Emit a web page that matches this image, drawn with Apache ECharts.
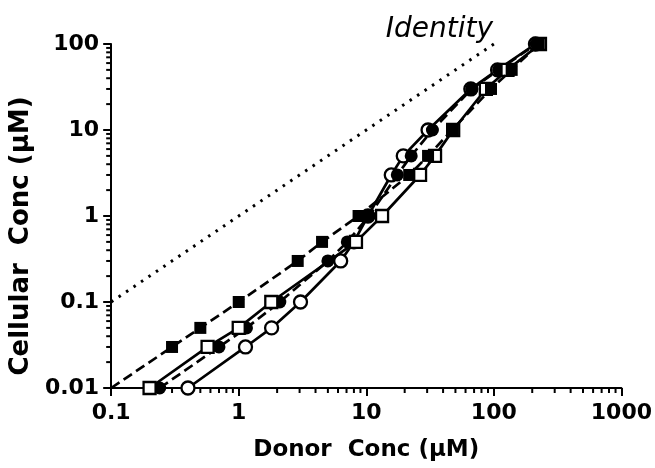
<!DOCTYPE html>
<html><head><meta charset="utf-8">
<script src="https://cdn.jsdelivr.net/npm/echarts@6/dist/echarts.min.js"></script>
<style>html,body{margin:0;padding:0;background:#fff}#c{width:655px;height:468px}</style>
</head><body><div id="c"></div>
<script>
// Cellular concentration levels (y) and donor concentrations (x) per series
const levelsA = [0.01, 0.03, 0.05, 0.1, 0.3, 0.5, 1, 3, 5, 10, 30, 50, 100];
const donorA  = [0.1, 0.3, 0.5, 1, 2.9, 4.5, 8.7, 21.7, 30.5, 47, 95, 138, 225];   // filled squares, dashed
const levelsB = [0.01, 0.03, 0.05, 0.1, 0.3, 0.5, 1, 3, 5, 10, 30, 50, 100];
const donorB  = [0.24, 0.7, 1.15, 2.1, 5, 7.1, 10.5, 17.5, 22.5, 33, 67, 109, 215]; // filled circles, dashed
const levelsC = [0.01, 0.03, 0.05, 0.1, 0.5, 1, 3, 5, 10, 30, 50, 100];
const donorC  = [0.2, 0.57, 1, 1.8, 8.3, 13.3, 26.4, 34.6, 48, 86.6, 128, 230];     // open squares, solid
const levelsD = [0.01, 0.03, 0.05, 0.1, 0.3, 0.5, 1, 3, 5, 10, 30, 50, 100];
const donorD  = [0.4, 1.13, 1.81, 3.05, 6.3, 8, 10.3, 15.7, 19.5, 30.5, 66, 107, 212]; // open circles, solid
const identityX = [0.1, 100];
const identityY = [0.1, 100];
const xTickLabels = [0.1, 1, 10, 100, 1000];
const yTickLabels = [0.01, 0.1, 1, 10, 100];
const minorMultipliers = [2, 3, 4, 5, 6, 7, 8, 9];

const X_MIN = xTickLabels[0], X_MAX = xTickLabels[xTickLabels.length - 1];
const Y_MIN = yTickLabels[0], Y_MAX = yTickLabels[yTickLabels.length - 1];
function minorValues(lo, hi) {
  const out = [];
  for (let d = lo; d < hi; d *= 10) minorMultipliers.forEach(m => out.push(+(d * m).toPrecision(6)));
  return out;
}
const xMinor = minorValues(X_MIN, X_MAX);
const yMinor = minorValues(Y_MIN, Y_MAX);
const zip = (xs, ys) => xs.map((x, i) => [x, ys[i]]);

const chart = echarts.init(document.getElementById('c'), null, {renderer: 'canvas'});
const BOLD = 'DejaVu Sans, Liberation Sans, sans-serif';
const fmt = v => String(+(+v).toPrecision(6));

const lineW = 2.7;
function dataSeries(name, xs, ys, symbol, filled, dashed, z) {
  return {
    name, type: 'line', data: zip(xs, ys).map((p, i) => (name === 'A' && i === 0) ? {value: p, symbol: 'none'} : p),
    symbol, symbolSize: symbol === 'circle' ? 13 : 12, showSymbol: true, clip: false,
    lineStyle: {color: '#000', width: lineW, type: dashed ? [10, 5] : 'solid'},
    itemStyle: {color: filled ? '#000' : '#fff', borderColor: '#000', borderWidth: filled ? 0 : 2.3},
    emphasis: {disabled: true}, animation: false, z
  };
}

chart.setOption({
  animation: false,
  grid: {left: 111, right: 32, top: 44, bottom: 80, containLabel: false},
  xAxis: {
    type: 'log', logBase: 10, min: X_MIN, max: X_MAX,
    name: 'Donor  Conc (\u03BCM)', nameLocation: 'middle', nameGap: 51,
    nameTextStyle: {fontFamily: BOLD, fontWeight: 'bold', fontSize: 23, color: '#000'},
    axisLine: {show: true, onZero: false, lineStyle: {color: '#000', width: 2}},
    axisTick: {show: true, inside: false, length: 8, lineStyle: {color: '#000', width: 2}},
    axisLabel: {fontFamily: BOLD, fontWeight: 'bold', fontSize: 22, color: '#000', margin: 14, formatter: fmt},
    splitLine: {show: false}, minorTick: {show: false}
  },
  yAxis: {
    type: 'log', logBase: 10, min: Y_MIN, max: Y_MAX,
    name: 'Cellular  Conc (\u03BCM)', nameLocation: 'middle', nameGap: 76,
    nameTextStyle: {fontFamily: BOLD, fontWeight: 'bold', fontSize: 26, color: '#000', padding: [0, 40, 0, 0]},
    axisLine: {show: true, onZero: false, lineStyle: {color: '#000', width: 2}},
    axisTick: {show: true, inside: false, length: 8, lineStyle: {color: '#000', width: 2}},
    axisLabel: {fontFamily: BOLD, fontWeight: 'bold', fontSize: 22, color: '#000', margin: 12, formatter: fmt},
    splitLine: {show: false}, minorTick: {show: false}
  },
  graphic: [{
    type: 'text', x: 493, y: 30,
    style: {text: 'Identity', font: 'oblique 28px DejaVu Sans, sans-serif', fill: '#000', align: 'right', verticalAlign: 'middle'}
  }],
  series: [
    {
      type: 'custom', name: 'xMinor', data: xMinor.map(v => [v, Y_MIN]), clip: false, silent: true,
      renderItem: (params, api) => {
        const p = api.coord([api.value(0), api.value(1)]);
        return {type: 'line', shape: {x1: p[0], y1: p[1], x2: p[0], y2: p[1] + 5}, style: {stroke: '#000', lineWidth: 2}};
      }
    },
    {
      type: 'custom', name: 'yMinor', data: yMinor.map(v => [X_MIN, v]), clip: false, silent: true,
      renderItem: (params, api) => {
        const p = api.coord([api.value(0), api.value(1)]);
        return {type: 'line', shape: {x1: p[0], y1: p[1], x2: p[0] - 5, y2: p[1]}, style: {stroke: '#000', lineWidth: 2}};
      }
    },
    {
      type: 'line', name: 'Identity', data: zip(identityX, identityY), symbol: 'none', clip: false,
      lineStyle: {color: '#000', width: 3, type: [2.5, 6.5], cap: 'butt'}, emphasis: {disabled: true}, z: 2
    },
    dataSeries('D', donorD, levelsD, 'circle', false, false, 3),
    dataSeries('B', donorB, levelsB, 'circle', true, true, 4),
    dataSeries('C', donorC, levelsC, 'rect', false, false, 5),
    dataSeries('A', donorA, levelsA, 'rect', true, true, 6)
  ]
});
</script></body></html>
